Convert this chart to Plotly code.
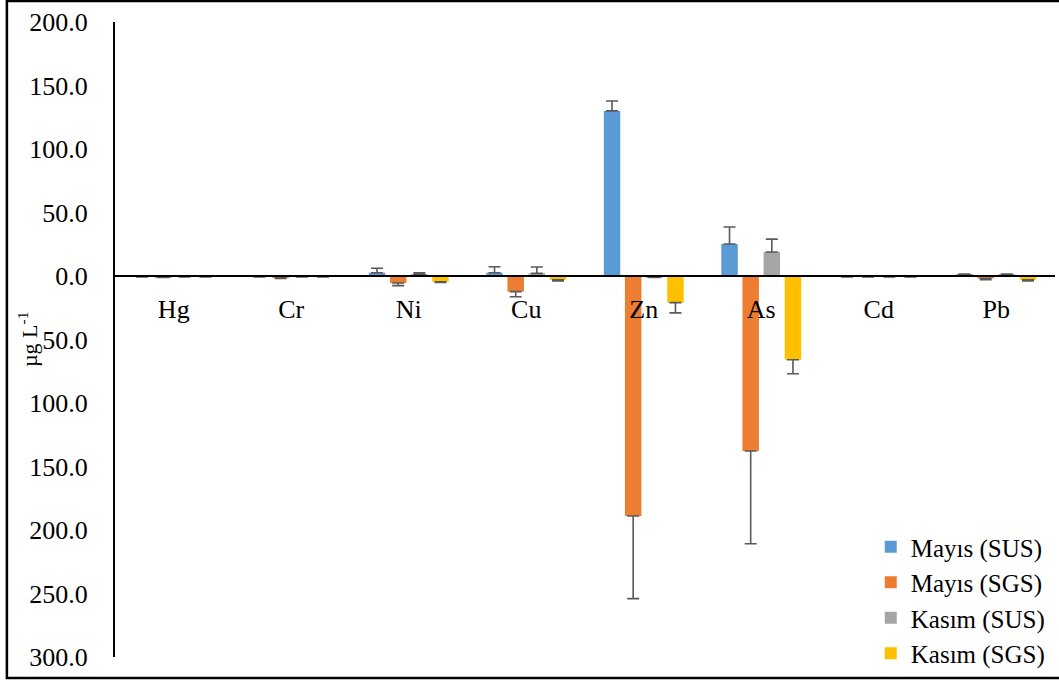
import plotly.graph_objects as go

categories = ["Hg", "Cr", "Ni", "Cu", "Zn", "As", "Cd", "Pb"]

series_names = ["Mayıs (SUS)", "Mayıs (SGS)", "Kasım (SUS)", "Kasım (SGS)"]
may_sus = [-0.5, -0.5, 2.6, 2.6, 130.0, 25.2, -0.5, 1.0]
may_sus_err = [0.3, 0.3, 3.5, 4.7, 7.8, 13.4, 0.3, 0.5]
may_sgs = [-0.8, -1.5, -5.5, -12.3, -189.0, -137.8, -0.5, -2.0]
may_sgs_err = [0.3, 0.5, 2.1, 4.0, 65.0, 73.0, 0.3, 1.0]
kas_sus = [-0.5, -0.5, 1.5, 2.1, -0.8, 18.9, -0.5, 1.0]
kas_sus_err = [0.3, 0.3, 1.0, 5.0, 0.3, 10.1, 0.3, 0.5]
kas_sgs = [-0.5, -0.5, -4.5, -3.0, -21.0, -66.0, -0.5, -3.0]
kas_sgs_err = [0.3, 0.3, 0.5, 0.8, 8.0, 11.0, 0.3, 0.8]

tick_vals = [200, 150, 100, 50, 0, -50, -100, -150, -200, -250, -300]
tick_text = ["200.0", "150.0", "100.0", "50.0", "0.0", "50.0", "100.0",
             "150.0", "200.0", "250.0", "300.0"]

colors = ["#5B9BD5", "#ED7D31", "#A5A5A5", "#FFC000"]
values = [may_sus, may_sgs, kas_sus, kas_sgs]
errors = [may_sus_err, may_sgs_err, kas_sus_err, kas_sgs_err]

FONT = "Liberation Serif, Times New Roman, serif"

fig = go.Figure()
for name, vals, errs, col in zip(series_names, values, errors, colors):
    plus = [e if v >= 0 else 0 for v, e in zip(vals, errs)]
    minus = [e if v < 0 else 0 for v, e in zip(vals, errs)]
    fig.add_trace(go.Bar(
        x=categories, y=vals, name=name,
        marker=dict(color=col, line=dict(width=0)),
        error_y=dict(type="data", symmetric=False, array=plus, arrayminus=minus,
                     color="#595959", thickness=1.6, width=6),
    ))

fig.update_layout(
    width=1059, height=681,
    margin=dict(l=115, r=4, t=22, b=24, autoexpand=False),
    paper_bgcolor="white", plot_bgcolor="white",
    barmode="group", bargap=0.28, bargroupgap=0.22,
    font=dict(family=FONT, size=26, color="black"),
    showlegend=True,
    legend=dict(x=0.804, y=-0.03, xanchor="left", yanchor="bottom",
                font=dict(family=FONT, size=25, color="black"),
                bgcolor="rgba(0,0,0,0)", tracegroupgap=0, itemwidth=30),
    xaxis=dict(anchor="free", position=0.6, showline=True, linecolor="black",
               linewidth=1.5, ticks="", showgrid=False, zeroline=False,
               tickfont=dict(family=FONT, size=26), ticklabelstandoff=10),
    yaxis=dict(range=[-300, 200], tickvals=tick_vals, ticktext=tick_text,
               showline=True, linecolor="black", linewidth=2, ticks="",
               showgrid=False, zeroline=False,
               tickfont=dict(family=FONT, size=26), ticklabelstandoff=20),
    annotations=[dict(text="µg L<sup>-1</sup>", xref="paper", yref="paper",
                      x=-0.093, y=0.5, textangle=-90, showarrow=False,
                      font=dict(family=FONT, size=22, color="black"),
                      xanchor="center", yanchor="middle")],
    shapes=[dict(type="rect", xref="paper", yref="paper",
                 x0=-0.115, x1=1.05, y0=-0.033, y1=1.033,
                 line=dict(color="black", width=2.5), fillcolor="rgba(0,0,0,0)",
                 layer="above")],
)

fig.write_html("out.html", config={"displayModeBar": False},
               post_script="document.body.style.margin='0';")
